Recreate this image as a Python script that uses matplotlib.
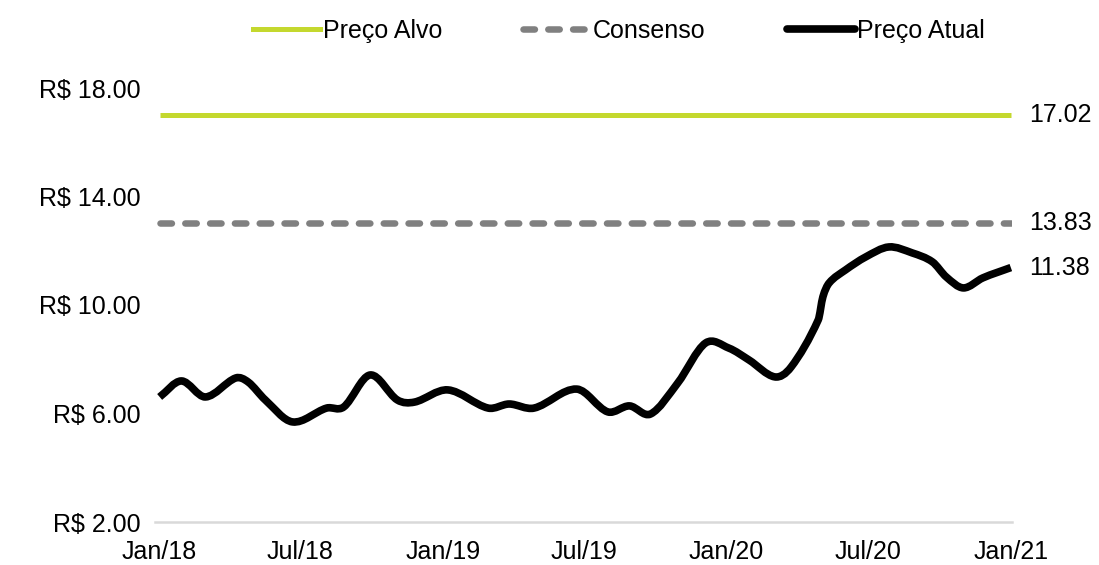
import matplotlib
matplotlib.use("Agg")
import matplotlib.pyplot as plt
import matplotlib.dates as mdates
import numpy as np
import pandas as pd
from matplotlib.path import Path
from matplotlib.patches import PathPatch
from matplotlib.lines import Line2D

plt.rcParams['font.family'] = ['Liberation Sans', 'DejaVu Sans']

# price history
dates = ["2018-01-01", "2018-01-29", "2018-03-01", "2018-04-09", "2018-04-25", "2018-05-17",
         "2018-06-21", "2018-08-04", "2018-08-26", "2018-09-29", "2018-11-03", "2018-11-25",
         "2019-01-07", "2019-02-28", "2019-03-27", "2019-04-28", "2019-06-22", "2019-08-01",
         "2019-08-29", "2019-09-25", "2019-10-30", "2019-12-05", "2020-01-04", "2020-01-30",
         "2020-03-03", "2020-03-24", "2020-04-28", "2020-05-04", "2020-05-12", "2020-06-02",
         "2020-06-28", "2020-07-28", "2020-08-27", "2020-09-22", "2020-10-10", "2020-11-01",
         "2020-11-26", "2021-01-01"]
prices = [6.61, 7.20, 6.61, 7.31, 7.16, 6.50, 5.69, 6.20, 6.24, 7.42,
          6.50, 6.42, 6.87, 6.20, 6.35, 6.20, 6.90, 6.06, 6.28, 5.98,
          7.12, 8.60, 8.41, 7.97, 7.35, 7.71, 9.45, 10.30, 10.81, 11.29,
          11.77, 12.14, 11.92, 11.59, 11.03, 10.63, 11.00, 11.38]

target_price = 17.02
consensus_price = 13.02
end_labels = ["17.02", "13.83", "11.38"]

series_names = ["Preço Alvo", "Consenso", "Preço Atual"]
y_ticks = [2, 6, 10, 14, 18]
x_ticks = ["2018-01-01", "2018-07-01", "2019-01-01", "2019-07-01", "2020-01-01", "2020-07-01", "2021-01-01"]

GREEN = "#C4D82E"
GRAY = "#808080"
DASH = (0, (1.75, 2.05))
FS = 18


def smooth_path(xs, ys):
    # piecewise cubic (hermite) written as bezier segments -> smooth line
    xs = np.asarray(xs, float)
    ys = np.asarray(ys, float)
    n = len(xs)
    m = np.empty(n)
    m[0] = (ys[1] - ys[0]) / (xs[1] - xs[0])
    m[-1] = (ys[-1] - ys[-2]) / (xs[-1] - xs[-2])
    m[1:-1] = (ys[2:] - ys[:-2]) / (xs[2:] - xs[:-2])
    verts = [(xs[0], ys[0])]
    codes = [Path.MOVETO]
    for i in range(n - 1):
        h = xs[i + 1] - xs[i]
        verts += [(xs[i] + h / 3, ys[i] + m[i] * h / 3),
                  (xs[i + 1] - h / 3, ys[i + 1] - m[i + 1] * h / 3),
                  (xs[i + 1], ys[i + 1])]
        codes += [Path.CURVE4] * 3
    return Path(verts, codes)


d = pd.to_datetime(dates)
xnum = mdates.date2num(d)
first, last = xnum[0], xnum[-1]

fig = plt.figure(figsize=(10.99, 5.65), dpi=100)
ax = fig.add_axes([155 / 1099, 1 - 522 / 565, (1012 - 155) / 1099, (522 - 88) / 565])

ax.plot([first, last], [target_price] * 2, color=GREEN, lw=3.6, solid_capstyle="butt")
ax.plot([first, last], [consensus_price] * 2, color=GRAY, lw=4.7,
        linestyle=DASH, dash_capstyle="round")
ax.add_patch(PathPatch(smooth_path(xnum, prices), facecolor="none", edgecolor="black",
                       lw=5.5, capstyle="butt", joinstyle="round"))

ax.set_xlim(first - 6, last + 1.5)
ax.set_ylim(2, 18)
ax.set_yticks(y_ticks)
ax.set_yticklabels([f"R$ {v:.2f}" for v in y_ticks])
xt = pd.to_datetime(x_ticks)
ax.set_xticks(mdates.date2num(xt))
ax.set_xticklabels([t.strftime("%b/%y") for t in xt])
ax.tick_params(axis="both", length=0, labelsize=FS, colors="black")
ax.tick_params(axis="y", pad=10)
ax.tick_params(axis="x", pad=13)

for s in ["top", "right", "left"]:
    ax.spines[s].set_visible(False)
ax.spines["bottom"].set_color("#D9D9D9")
ax.spines["bottom"].set_linewidth(1.8)

for val, lab in zip([target_price, consensus_price, prices[-1]], end_labels):
    ax.annotate(lab, xy=(1, val), xycoords=("axes fraction", "data"), xytext=(12, 0),
                textcoords="offset points", va="center", ha="left", fontsize=FS)

handles = [Line2D([], [], color=GREEN, lw=3.6),
           Line2D([], [], color=GRAY, lw=4.7, linestyle=DASH, dash_capstyle="round"),
           Line2D([], [], color="black", lw=5.5, solid_capstyle="round")]
fig.legend(handles, series_names, loc="center", bbox_to_anchor=(0.563, 0.945), ncol=3,
           frameon=False, fontsize=FS, handlelength=2.7, handletextpad=0.1, columnspacing=3.25)

fig.savefig("out.png", dpi=100)
